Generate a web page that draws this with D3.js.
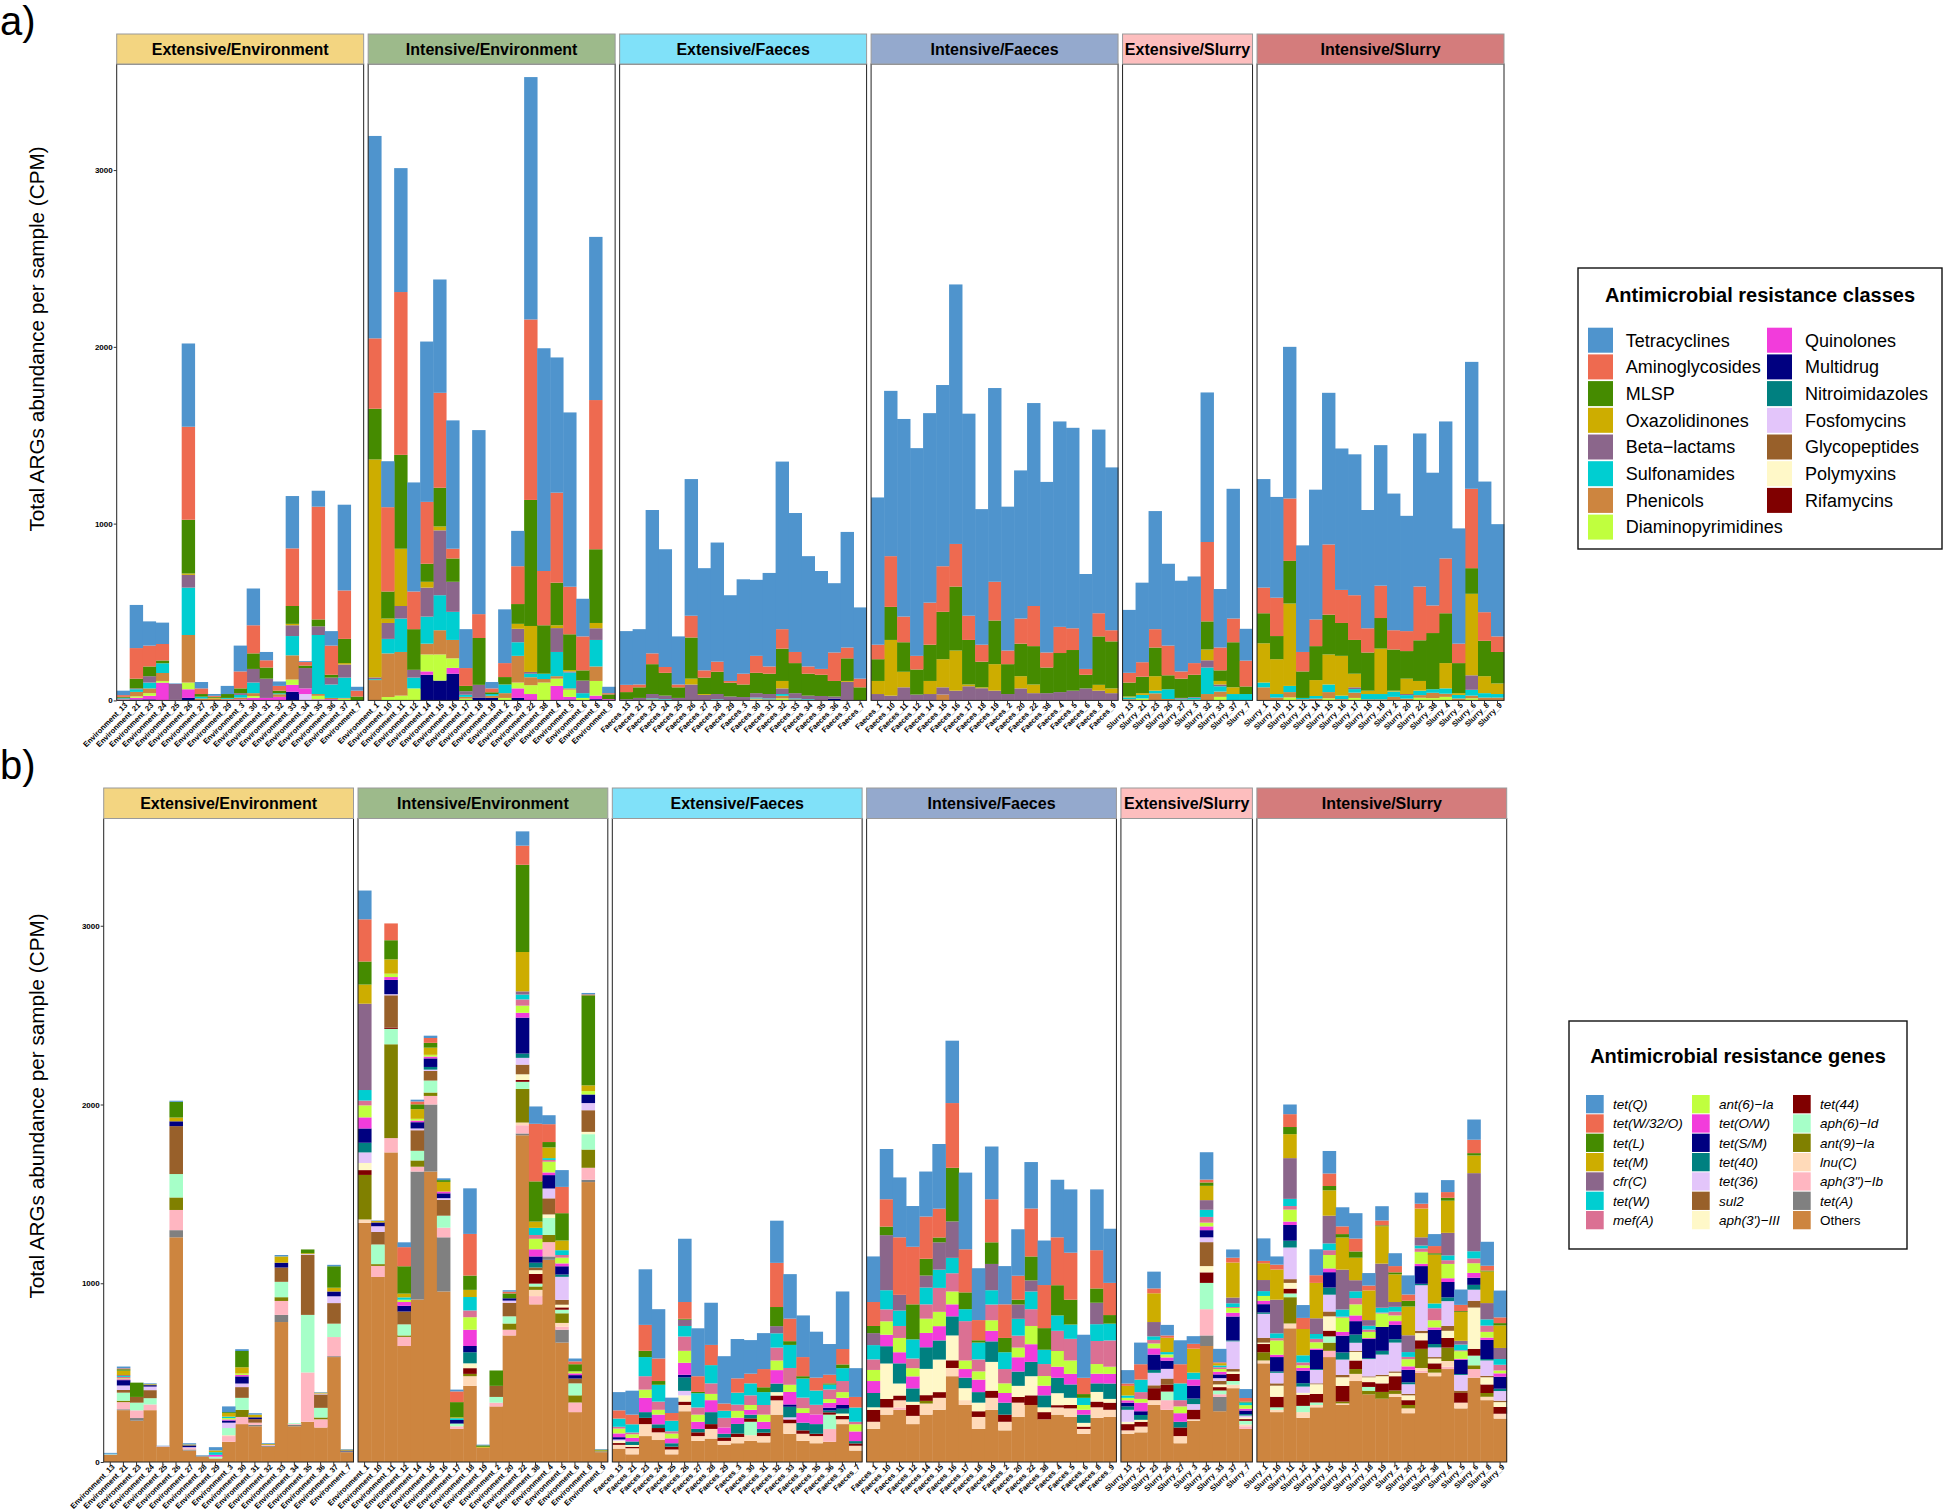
<!DOCTYPE html>
<html>
<head>
<meta charset="utf-8">
<script src="https://cdn.jsdelivr.net/npm/d3@7"></script>
<style>
  body { margin: 0; background: #fff; }
  text { font-family: "Liberation Sans", Arial, sans-serif; }
</style>
</head>
<body>
<svg id="chart" width="1944" height="1512"></svg>
<script>
// ---- categories ----
const facetNames = ["Extensive/Environment", "Intensive/Environment", "Extensive/Faeces",
  "Intensive/Faeces", "Extensive/Slurry", "Intensive/Slurry"];
const stripColors = ["#F3D581", "#9DBA8B", "#80E1F9", "#94A9CD", "#FDBEBE", "#D47C7C"];

const samplesExtEnv = ["Environment_13", "Environment_21", "Environment_23", "Environment_24", "Environment_25",
  "Environment_26", "Environment_27", "Environment_28", "Environment_29", "Environment_3", "Environment_30",
  "Environment_31", "Environment_32", "Environment_33", "Environment_34", "Environment_35", "Environment_36",
  "Environment_37", "Environment_7"];
const samplesIntEnv = ["Environment_1", "Environment_10", "Environment_11", "Environment_12", "Environment_14",
  "Environment_15", "Environment_16", "Environment_17", "Environment_18", "Environment_19", "Environment_2",
  "Environment_20", "Environment_22", "Environment_38", "Environment_4", "Environment_5", "Environment_6",
  "Environment_8", "Environment_9"];
const samplesExtFae = ["Faeces_13", "Faeces_21", "Faeces_23", "Faeces_24", "Faeces_25", "Faeces_26", "Faeces_27",
  "Faeces_28", "Faeces_29", "Faeces_3", "Faeces_30", "Faeces_31", "Faeces_32", "Faeces_33", "Faeces_34",
  "Faeces_35", "Faeces_36", "Faeces_37", "Faeces_7"];
const samplesIntFae = ["Faeces_1", "Faeces_10", "Faeces_11", "Faeces_12", "Faeces_14", "Faeces_15", "Faeces_16",
  "Faeces_17", "Faeces_18", "Faeces_19", "Faeces_2", "Faeces_20", "Faeces_22", "Faeces_38", "Faeces_4",
  "Faeces_5", "Faeces_6", "Faeces_8", "Faeces_9"];
const samplesExtSlu = ["Slurry_13", "Slurry_21", "Slurry_23", "Slurry_26", "Slurry_27", "Slurry_3", "Slurry_32",
  "Slurry_33", "Slurry_37", "Slurry_7"];
const samplesIntSlu = ["Slurry_1", "Slurry_10", "Slurry_11", "Slurry_12", "Slurry_14", "Slurry_15", "Slurry_16",
  "Slurry_17", "Slurry_18", "Slurry_19", "Slurry_2", "Slurry_20", "Slurry_22", "Slurry_38", "Slurry_4",
  "Slurry_5", "Slurry_6", "Slurry_8", "Slurry_9"];

const classNames = ["Tetracyclines", "Aminoglycosides", "MLSP", "Oxazolidinones", "Beta\u2212lactams",
  "Sulfonamides", "Phenicols", "Diaminopyrimidines", "Quinolones", "Multidrug", "Nitroimidazoles",
  "Fosfomycins", "Glycopeptides", "Polymyxins", "Rifamycins"];
const classColors = ["#4F94CD", "#EE6A50", "#458B00", "#CDAD00", "#8B668B", "#00CED1", "#CD853F", "#C0FF3E",
  "#F23CDB", "#000080", "#008080", "#E3C5FA", "#98602A", "#FFF8C8", "#800000"];

const geneNames = ["tet(Q)", "tet(W/32/O)", "tet(L)", "tet(M)", "cfr(C)", "tet(W)", "mef(A)", "ant(6)\u2212Ia",
  "tet(O/W)", "tet(S/M)", "tet(40)", "tet(36)", "sul2", "aph(3')\u2212III", "tet(44)", "aph(6)\u2212Id",
  "ant(9)\u2212Ia", "lnu(C)", "aph(3\")\u2212Ib", "tet(A)", "Others"];
const geneColors = ["#4F94CD", "#EE6A50", "#458B00", "#CDAD00", "#8B668B", "#00CED1", "#DB7093", "#C0FF3E",
  "#F23CDB", "#000080", "#008080", "#E3C5FA", "#98602A", "#FFF8C8", "#800000", "#A6FFC8", "#808000",
  "#FFDAB9", "#FFB6C1", "#808080", "#CD853F"];

const yTicks = [0, 1000, 2000, 3000];

// ---- panel a values: one row per sample, columns follow classNames ----
const classesExtEnv = [
  [25,10,5,0,3,5,2,0,5], [244,173,55,0,5,15,25,8,10,5], [137,118,55,0,36,33,27,15,20,6],
  [121,93,16,0,0,55,45,10,100], [3,0,0,0,90,0,0,0,3], [471,526,304,8,72,268,269,38,49,14],
  [36,32,15,0,0,10,11], [10,6,5,5,0,0,10], [46,0,22,0,0,5,5,0,4], [146,96,27,0,10,15,10,0,6],
  [208,159,88,0,77,60,16,10,15], [47,41,63,0,109,0,0,0,14], [25,27,15,0,0,5,15,0,20],
  [296,326,101,8,61,109,137,30,39,49], [5,20,14,0,115,0,0,0,32,0,0,36], [90,638,39,0,49,334,10,20,6],
  [82,165,16,0,39,76,7,0,7], [485,274,137,8,74,115,4,10], [22,33,22]
];
const classesIntEnv = [
  [1145,398,287,1233,10,5,115], [260,477,153,25,90,82,247,19], [701,921,531,324,71,189,247,27],
  [617,213,230,0,44,61,0,68], [907,350,102,33,164,153,61,96,19,145], [641,537,219,22,367,198,137,148,0,112],
  [726,55,132,0,170,159,104,54,33,151], [220,101,30,0,20,12,10,10], [1041,135,265,0,74,0,0,0,0,14],
  [36,22,10,0,0,10,12,0,0,14], [304,79,42,0,0,49,27,14], [200,214,112,28,76,77,151,33,54,14],
  [1371,1021,713,260,10,20,45,50,36], [1260,307,274,0,0,30,20,101], [765,509,241,16,135,137,14,41,82],
  [986,269,202,8,6,90,7,41,15,5], [213,192,58,0,71,27,0,14], [923,844,417,30,66,150,82,83,20,7],
  [36,7,27,0,0,0,0,0,7]
];
const classesExtFae = [
  [304,41,40,0,7], [313,16,60,0,14], [811,61,169,0,25,5,6], [666,33,129,0,20,4,3], [272,16,60,0,14],
  [773,123,233,33,90], [578,41,93,5,31], [674,57,126,0,30,3,3], [485,10,78,0,22], [534,61,71,0,19],
  [430,96,115,0,25,5,5,3,3], [529,41,115,0,25,5,6], [948,110,183,42,32,10,15,11], [786,63,170,0,30,5,6],
  [624,41,124,0,20,4,3], [554,33,120,0,25], [392,161,88,0,12,0,0,0,0,10], [654,61,128,5,105], [403,49,74]
];
const classesIntFae = [
  [833,82,123,74,36], [935,287,187,315,27], [1118,145,167,88,74], [1175,77,142,0,33], [1072,238,205,74,36],
  [1025,258,268,159,41,0,33], [1468,241,362,227,55], [1143,137,252,10,80], [767,96,145,5,69],
  [1096,219,247,150,55], [814,77,169,0,36], [838,142,184,69,68], [1148,227,217,49,41], [965,85,145,0,41],
  [1162,148,221,0,47], [1134,123,230,0,55], [537,33,77,0,68], [1039,131,274,33,55], [921,63,266,27,41]
];
const classesExtSlu = [
  [356,55,79,5,0,10,7], [450,82,93,10,0,20,0,11], [668,104,162,82,0,15,40], [463,168,79,0,0,55,8],
  [513,41,109,0,4,5,5], [490,66,126,0,4,10,5], [846,449,159,61,41,150,36], [331,129,60,20,10,30,30,20],
  [734,134,255,38,0,36], [180,146,43,0,0,36]
];
const classesIntSlu = [
  [614,145,170,222,0,27,74], [570,217,131,197,0,20,16], [858,353,241,466,0,35,30,17], [603,110,150,0,0,8,6],
  [734,151,192,90,0,15,10], [858,397,225,170,0,43,35,12], [800,187,186,225,0,20,7], [797,253,191,77,10,20,30,14],
  [669,137,216,19,0,30,6], [795,183,173,257,0,30,6], [773,109,233,5,0,30,20], [652,113,156,87,6,20,10],
  [866,304,230,55,0,25,15,15], [751,156,318,0,0,20,30,13], [775,310,282,143,0,30,18,20], [652,110,170,10,0,20,11],
  [718,449,145,461,82,33,15,12], [739,162,200,96,0,25,16], [635,88,178,60,0,20,16]
];

// ---- panel b values: one row per sample, columns follow geneNames ----
const genesExtEnv = [
  [5,0,0,0,0,3,0,0,0,0,0,0,0,0,0,0,0,0,3,0,40],
  [10,5,8,25,5,5,8,5,5,30,0,25,15,0,0,45,8,0,40,5,290],
  [0,0,80,0,0,0,0,0,0,0,0,0,32,0,0,43,0,0,43,15,231],
  [5,0,0,5,0,0,0,0,0,8,0,20,45,0,0,35,0,0,32,0,290],
  [3,0,0,0,0,0,0,0,0,0,0,0,0,0,0,0,0,0,3,0,85],
  [6,0,88,21,0,0,0,0,0,27,0,0,268,0,0,131,70,0,113,40,1257],
  [7,0,0,5,0,0,0,0,0,10,0,5,0,0,0,0,0,0,8,6,64],
  [3,0,0,0,0,0,0,0,0,0,0,0,0,0,0,0,0,0,0,5,30],
  [18,0,0,10,0,15,0,0,10,0,0,0,0,0,0,10,0,0,0,0,20],
  [32,0,5,20,0,8,0,8,6,12,0,30,0,0,0,40,0,5,32,0,113],
  [10,0,91,35,0,0,0,8,8,40,0,20,60,0,0,67,40,0,40,0,212],
  [8,0,0,15,0,0,0,0,0,10,0,0,20,0,0,0,0,0,12,8,200],
  [5,0,0,5,0,0,0,0,0,0,0,0,0,0,0,0,0,0,5,5,85],
  [8,0,0,35,0,0,0,0,0,27,0,0,80,0,0,86,21,0,78,40,783],
  [0,0,0,0,0,0,0,0,0,0,0,0,0,0,0,5,0,0,5,7,200],
  [0,0,21,5,0,0,0,0,0,0,0,5,335,0,0,322,0,0,276,0,225],
  [3,0,0,5,0,0,0,0,0,0,0,5,75,0,0,54,10,0,46,0,193],
  [8,0,120,21,0,0,0,0,0,27,0,38,115,0,0,75,0,0,107,5,587],
  [3,0,0,5,0,0,0,0,0,4,0,0,0,0,0,0,0,0,0,5,55]
];
const genesIntEnv = [
  [161,236,129,107,483,59,27,67,62,80,54,59,0,40,27,0,249,19,0,0,1338],
  [3,0,0,8,0,0,0,0,0,21,0,32,70,0,0,110,10,0,62,0,1035],
  [0,94,107,80,0,0,0,19,16,80,0,6,180,0,8,86,525,0,80,0,1732],
  [27,107,153,21,0,13,0,13,21,32,0,0,72,0,0,62,8,0,51,0,649],
  [10,16,27,54,0,0,0,10,9,35,0,10,115,0,0,54,35,0,27,716,909],
  [13,27,27,40,0,0,0,10,10,48,15,7,54,0,0,67,19,0,48,375,1625],
  [10,0,10,54,0,0,0,0,10,27,0,10,88,0,0,67,0,0,54,303,954],
  [10,60,85,5,0,10,0,0,0,20,0,0,0,0,0,15,0,0,15,0,185],
  [255,233,80,40,0,75,38,70,91,35,62,0,0,27,32,0,13,54,0,0,426],
  [4,0,8,5,0,0,0,0,0,0,0,0,0,0,0,0,0,0,0,0,80],
  [0,0,86,0,0,0,0,0,0,0,0,0,62,0,0,32,0,0,21,0,311],
  [8,10,27,0,0,0,0,0,0,13,0,13,75,0,0,40,35,0,32,0,708],
  [80,107,488,220,18,27,35,40,27,201,24,38,54,32,10,40,188,15,46,10,1828],
  [97,322,225,35,0,40,21,59,40,35,27,0,15,21,54,16,19,35,46,0,882],
  [50,100,30,60,0,10,10,60,15,75,0,55,90,20,0,95,40,0,80,19,1131],
  [94,147,153,54,0,27,15,32,16,46,13,129,27,15,13,20,54,21,17,72,668],
  [16,16,40,0,0,0,0,11,10,19,0,0,27,0,0,67,40,0,54,0,279],
  [8,5,504,32,0,0,0,19,0,48,0,40,121,13,0,86,102,0,67,13,1566],
  [3,0,4,5,0,0,0,0,0,0,0,0,0,0,0,0,0,0,0,5,55]
];
const genesExtFae = [
  [102,46,0,0,0,46,10,27,21,13,0,7,0,13,10,0,0,21,0,0,75],
  [134,54,0,0,0,46,10,20,20,0,20,0,0,10,8,0,0,34,0,0,43],
  [311,145,35,0,0,107,75,46,80,0,32,0,0,0,35,0,0,67,0,0,145],
  [276,126,21,0,0,94,46,27,54,0,21,0,0,0,24,0,0,43,0,0,123],
  [86,43,0,0,0,59,13,27,27,0,19,0,0,0,16,0,0,27,0,0,43],
  [354,94,5,0,35,59,80,67,67,15,75,25,0,35,19,0,0,35,0,0,284],
  [268,88,7,0,0,80,40,40,40,0,19,0,0,0,21,0,0,27,0,0,118],
  [236,113,0,0,0,102,59,35,67,0,67,0,0,0,27,0,0,54,0,0,131],
  [265,40,0,0,0,40,54,0,35,0,21,0,0,0,19,0,0,21,0,0,97],
  [220,80,0,0,0,67,35,38,35,0,54,0,0,0,19,0,0,35,0,0,105],
  [188,54,0,0,0,67,54,27,27,0,21,0,0,0,19,75,0,32,0,0,118],
  [201,102,27,0,0,72,54,40,40,0,21,0,0,0,19,0,0,35,0,0,110],
  [236,247,107,0,40,80,72,54,75,0,48,0,0,19,27,0,0,80,0,0,265],
  [249,126,21,0,0,129,94,40,70,13,59,12,0,0,21,0,0,59,0,0,158],
  [233,107,13,0,0,107,59,27,54,0,43,0,0,0,19,0,0,40,0,0,118],
  [257,72,0,0,0,80,54,0,54,0,54,0,0,0,13,0,0,40,0,0,105],
  [172,48,7,0,0,27,54,21,27,16,10,0,0,0,13,80,0,0,72,0,113],
  [322,86,21,0,0,72,62,32,40,21,27,0,0,13,19,0,0,27,0,0,212],
  [161,59,0,0,0,80,14,40,54,0,13,0,0,0,13,0,0,27,0,0,64]
];
const genesIntFae = [
  [255,134,40,0,67,80,59,62,67,0,80,0,0,14,67,0,0,40,0,0,185],
  [281,153,48,0,308,107,67,75,64,0,97,0,0,198,48,0,0,40,0,0,265],
  [335,322,0,0,88,86,67,80,62,0,113,0,0,67,27,0,0,40,13,0,292],
  [228,322,196,0,0,107,54,46,67,0,75,0,0,17,62,0,0,46,0,0,212],
  [252,236,94,0,67,94,80,80,80,0,121,0,0,147,32,0,15,62,0,0,265],
  [362,161,27,0,153,102,134,80,80,0,107,0,0,182,32,0,0,67,0,0,292],
  [349,362,300,0,204,86,102,72,67,0,107,0,0,139,43,0,0,46,0,0,480],
  [429,241,94,0,0,67,220,48,48,0,59,0,0,67,0,0,0,27,0,0,319],
  [290,113,13,0,0,94,67,46,70,0,59,0,0,48,32,0,0,67,0,0,185],
  [295,241,121,0,147,80,88,59,59,0,115,0,0,161,40,0,0,67,0,0,292],
  [214,188,80,0,0,94,80,54,54,0,67,0,0,0,40,0,0,48,0,0,177],
  [260,134,27,0,80,94,67,54,80,0,80,0,0,62,32,0,0,80,0,0,252],
  [260,268,134,0,62,99,94,102,99,0,80,0,0,107,54,0,0,0,0,0,319],
  [249,241,121,0,0,80,67,54,54,0,67,0,0,27,40,0,0,0,0,0,239],
  [322,268,169,0,0,86,113,88,62,0,86,0,0,67,13,0,0,40,0,0,265],
  [354,263,139,0,0,80,121,75,59,0,75,0,0,40,19,0,0,48,0,0,252],
  [241,91,21,0,0,40,0,27,27,0,46,0,0,21,13,0,0,27,0,0,158],
  [340,214,80,0,120,94,129,54,54,0,48,0,0,54,32,0,0,59,0,0,247],
  [303,180,48,0,0,94,147,40,54,0,86,0,0,21,40,0,0,40,0,0,252]
];
const genesExtSlu = [
  [75,13,0,54,0,13,0,14,13,21,19,67,0,13,35,0,0,19,0,0,158],
  [121,86,0,0,0,70,38,21,48,21,27,0,0,11,27,0,0,32,0,0,166],
  [94,27,0,161,80,20,20,27,35,86,16,70,16,0,67,0,0,27,0,0,319],
  [59,13,0,80,0,13,0,17,18,46,0,54,35,0,38,48,0,0,54,0,292],
  [134,107,0,0,0,94,35,38,48,0,32,0,0,0,48,0,0,40,0,0,105],
  [43,27,0,134,0,38,0,0,35,72,31,31,0,0,54,0,0,8,0,0,231],
  [153,16,19,80,54,40,32,21,21,40,0,27,134,35,59,147,0,0,147,59,649],
  [75,5,0,13,0,10,10,15,15,21,0,15,20,15,19,21,0,0,15,80,284],
  [46,27,0,196,32,21,5,27,21,134,5,155,14,13,40,20,0,20,0,0,413],
  [50,20,5,0,0,15,0,20,10,20,8,10,0,10,10,20,0,10,15,0,185]
];
const genesIntSlu = [
  [126,13,0,94,62,27,0,27,19,46,8,134,27,8,46,0,46,16,0,0,552],
  [46,27,0,169,188,27,13,80,13,80,8,59,13,62,59,14,0,13,0,0,279],
  [54,72,40,134,228,40,20,67,19,88,38,177,21,32,27,21,147,27,0,0,748],
  [72,62,0,147,0,40,16,15,15,70,19,35,0,11,62,35,0,32,0,0,247],
  [145,43,0,198,88,27,19,35,8,107,5,75,5,54,48,14,0,13,0,0,306],
  [126,70,24,142,155,38,27,75,21,86,40,94,27,80,32,35,46,0,35,0,587],
  [107,43,19,180,223,40,5,80,21,94,40,86,13,48,88,0,10,9,0,0,319],
  [142,72,35,126,62,38,35,62,32,75,46,46,5,48,48,0,27,40,0,0,453],
  [70,27,0,166,32,21,13,35,5,107,5,97,5,27,27,21,21,0,0,0,378],
  [80,27,5,209,247,27,5,75,0,134,21,113,8,40,48,0,38,0,0,0,354],
  [72,35,11,155,27,27,21,32,21,80,19,161,8,19,80,0,19,16,0,0,365],
  [107,35,32,161,94,27,13,40,19,70,11,54,8,27,27,0,19,27,0,0,273],
  [62,27,0,161,46,16,19,67,13,99,8,255,13,40,48,0,107,16,11,0,499],
  [67,40,8,273,0,27,67,40,13,80,19,54,8,27,32,0,20,20,0,0,480],
  [67,32,16,180,126,27,21,80,21,86,21,139,27,40,54,0,75,32,13,0,520],
  [86,35,5,161,21,32,5,43,5,80,5,88,13,0,54,0,0,32,0,0,300],
  [113,75,13,99,437,40,27,54,27,40,27,62,38,231,38,54,21,0,48,0,472],
  [134,27,5,177,91,35,35,32,13,107,8,86,8,40,48,0,21,19,0,0,346],
  [150,32,13,126,62,32,32,16,19,67,13,54,8,27,38,0,0,27,0,0,243]
];

const facetSamples = [samplesExtEnv, samplesIntEnv, samplesExtFae, samplesIntFae, samplesExtSlu, samplesIntSlu];

const svg = d3.select("#chart");

function drawPanel(cfg) {
  const g = svg.append("g");
  const y = d3.scaleLinear().domain([0, 3600]).range([cfg.bottom, cfg.top]);
  const gap = 4.5;
  const total = d3.sum(facetSamples, s => s.length);
  const unit = (cfg.right - cfg.left - gap * (facetSamples.length - 1)) / total;
  let x0 = cfg.left;

  facetSamples.forEach((samples, fi) => {
    const w = unit * samples.length;
    const x = d3.scaleBand().domain(samples).range([x0, x0 + w]).padding(0);
    const rows = cfg.data[fi].map(r => cfg.keys.map((k, i) => r[i] || 0));
    const series = d3.stack().keys(d3.range(cfg.keys.length).reverse())(rows);

    g.append("g").selectAll("g").data(series).join("g")
      .attr("fill", s => cfg.colors[s.key])
      .selectAll("rect").data(s => s.map((d, i) => ({ d, name: samples[i] }))).join("rect")
      .attr("x", o => x(o.name))
      .attr("width", x.bandwidth() + 0.4)
      .attr("y", o => y(o.d[1]))
      .attr("height", o => Math.max(0, y(o.d[0]) - y(o.d[1])));

    // panel border
    g.append("rect").attr("x", x0).attr("y", cfg.top).attr("width", w).attr("height", cfg.bottom - cfg.top)
      .attr("fill", "none").attr("stroke", "#222").attr("stroke-width", 1);

    // strip
    g.append("rect").attr("x", x0).attr("y", cfg.stripTop).attr("width", w).attr("height", cfg.top - cfg.stripTop)
      .attr("fill", stripColors[fi]).attr("stroke", "#9a9a9a").attr("stroke-width", 1);
    g.append("text").attr("x", x0 + w / 2).attr("y", (cfg.stripTop + cfg.top) / 2)
      .attr("dy", "0.36em").attr("text-anchor", "middle")
      .attr("font-size", 16).attr("font-weight", "bold").attr("fill", "#000")
      .text(facetNames[fi]);

    // x axis
    const ax = g.append("g").attr("transform", `translate(0,${cfg.bottom})`)
      .call(d3.axisBottom(x).tickSize(3).tickPadding(0));
    ax.select(".domain").remove();
    ax.selectAll("line").attr("stroke", "#333");
    ax.selectAll("text")
      .attr("x", 0).attr("y", 0).attr("dy", "0.35em")
      .attr("transform", "translate(3,3.5) rotate(-45)")
      .style("text-anchor", "end")
      .attr("font-size", 7.6).attr("font-weight", "bold").attr("fill", "#000")
      .style("font-family", "'Liberation Sans', Arial, sans-serif");

    x0 += w + gap;
  });

  // y axis
  const ay = g.append("g").attr("transform", `translate(${cfg.left},0)`)
    .call(d3.axisLeft(y).tickValues(yTicks).tickFormat(d3.format("d")).tickSize(3).tickPadding(1));
  ay.select(".domain").remove();
  ay.selectAll("line").attr("stroke", "#333");
  ay.selectAll("text").attr("font-size", 8).attr("font-weight", "bold").attr("fill", "#000")
    .style("font-family", "'Liberation Sans', Arial, sans-serif");

  g.append("text")
    .attr("transform", `translate(44,${cfg.titleY}) rotate(-90)`)
    .attr("text-anchor", "middle").attr("font-size", 20.7).attr("fill", "#000")
    .text("Total ARGs abundance per sample (CPM)");

  g.append("text").attr("x", 0).attr("y", cfg.labelY)
    .attr("font-size", 40).attr("fill", "#000").text(cfg.label);
}

function drawLegend(cfg) {
  const g = svg.append("g");
  g.append("rect").attr("x", cfg.x).attr("y", cfg.y).attr("width", cfg.w).attr("height", cfg.h)
    .attr("fill", "#fff").attr("stroke", "#111").attr("stroke-width", 1.4);
  g.append("text").attr("x", cfg.x + cfg.w / 2).attr("y", cfg.titleY)
    .attr("text-anchor", "middle").attr("font-size", 20).attr("font-weight", "bold")
    .text(cfg.title);
  cfg.names.forEach((name, i) => {
    const col = Math.floor(i / cfg.nrow), row = i % cfg.nrow;
    const ky = cfg.keyY + row * cfg.pitch;
    g.append("rect").attr("x", cfg.keyX[col]).attr("y", ky)
      .attr("width", cfg.keyW).attr("height", cfg.keyH).attr("fill", cfg.colors[i]);
    g.append("text").attr("x", cfg.labelX[col]).attr("y", ky + cfg.keyH / 2).attr("dy", "0.35em")
      .attr("font-size", cfg.labelSize)
      .attr("font-style", cfg.italic && name !== "Others" ? "italic" : "normal")
      .text(name);
  });
}

drawPanel({
  left: 116.7, right: 1504, top: 64, bottom: 700.4, stripTop: 34,
  data: [classesExtEnv, classesIntEnv, classesExtFae, classesIntFae, classesExtSlu, classesIntSlu],
  keys: classNames, colors: classColors, label: "a)", labelY: 35, titleY: 339
});
drawPanel({
  left: 103.7, right: 1506.7, top: 818.5, bottom: 1462, stripTop: 788,
  data: [genesExtEnv, genesIntEnv, genesExtFae, genesIntFae, genesExtSlu, genesIntSlu],
  keys: geneNames, colors: geneColors, label: "b)", labelY: 779, titleY: 1106
});

drawLegend({
  x: 1578, y: 268, w: 364, h: 281, title: "Antimicrobial resistance classes", titleY: 301.5,
  names: classNames, colors: classColors, nrow: 8,
  keyX: [1588, 1767], labelX: [1625.7, 1805], keyY: 327.7, pitch: 26.7, keyW: 25, keyH: 25,
  labelSize: 18, italic: false
});
drawLegend({
  x: 1569, y: 1021, w: 338, h: 228, title: "Antimicrobial resistance genes", titleY: 1063,
  names: geneNames, colors: geneColors, nrow: 7,
  keyX: [1586, 1692, 1793], labelX: [1613, 1719, 1820], keyY: 1095, pitch: 19.33, keyW: 17.7, keyH: 18.3,
  labelSize: 13.5, italic: true
});
</script>
</body>
</html>
